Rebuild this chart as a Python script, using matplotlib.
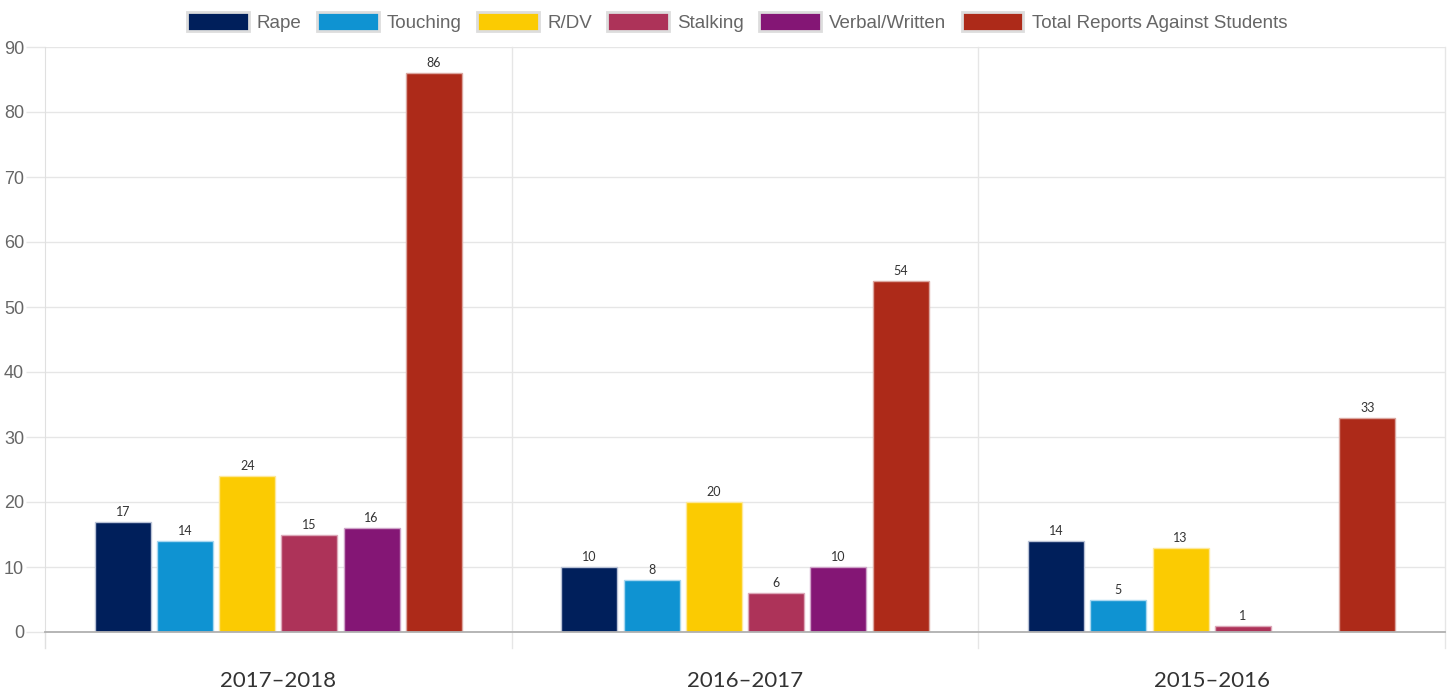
import numpy as np
import matplotlib
matplotlib.use("Agg")
import matplotlib.pyplot as plt
from matplotlib.patches import Patch

# report counts per academic year
years = ["2017\u20132018", "2016\u20132017", "2015\u20132016"]
series_names = ["Rape", "Touching", "R/DV", "Stalking", "Verbal/Written",
                "Total Reports Against Students"]
rape = [17, 10, 14]
touching = [14, 8, 5]
rdv = [24, 20, 13]
stalking = [15, 6, 1]
verbal = [16, 10, None]
total = [86, 54, 33]
series_values = [rape, touching, rdv, stalking, verbal, total]
colors = ["#001f5b", "#0f93d2", "#fbcb02", "#ad3359", "#841675", "#ad2a19"]
edge_colors = ["#b9c2d6", "#a8d7f0", "#fde89a", "#dca8b8", "#cfa3c8", "#dba69f"]

fig = plt.figure(figsize=(14.53, 6.96), dpi=100)
ax = fig.add_axes([45 / 1453, 64 / 696, 1400 / 1453, 585 / 696])

x = np.arange(len(years))
n = len(series_names)
pitch = 0.8 / n
width = pitch * 0.9

for i, (vals, c, ec) in enumerate(zip(series_values, colors, edge_colors)):
    offs = -0.4 + pitch * (i + 0.5)
    for xi, v in zip(x, vals):
        if v is None:
            continue
        ax.bar(xi + offs, v, width=width, color=c, edgecolor=ec, linewidth=1, zorder=3)
        ax.text(xi + offs, v + 0.6, str(v), ha="center", va="bottom",
                fontsize=9, color="#333333", family="Lato", zorder=4)

ax.set_xlim(-0.5, 2.5)
ax.set_ylim(0, 90)
ax.set_yticks(np.arange(0, 91, 10))
ax.set_yticklabels([str(v) for v in range(0, 91, 10)], family="Liberation Sans",
                   fontsize=13, color="#666666")
ax.tick_params(axis="y", length=14, color="#e6e6e6", width=1, pad=1)
ax.grid(axis="y", color="#e6e6e6", linewidth=1, zorder=0)

# category labels centred, separators at the boundaries
ax.set_xticks(x)
ax.set_xticklabels(years, fontsize=16, color="#333333", family="Lato")
ax.tick_params(axis="x", length=0, pad=28)
for b in [0.5, 1.5, 2.5]:
    ax.axvline(b, color="#e6e6e6", linewidth=1, zorder=0, ymin=-16 / 585, clip_on=False)

for s in ["top", "right"]:
    ax.spines[s].set_visible(False)
ax.spines["left"].set_color("#e0e0e0")
ax.spines["left"].set_bounds(0, 90)
ax.plot([-0.5, -0.5], [0, -16 / 6.5], color="#e0e0e0", linewidth=1, clip_on=False)
ax.spines["bottom"].set_color("#b0b0b0")
ax.spines["bottom"].set_linewidth(1.3)
ax.spines["bottom"].set_zorder(5)

handles = [Patch(facecolor=c, edgecolor="#dddddd", linewidth=2) for c in colors]
leg = fig.legend(handles, series_names, loc="center", bbox_to_anchor=(737 / 1453, 1 - 22 / 696),
                 ncol=n, frameon=False, prop={"family": "Liberation Sans", "size": 13.5},
                 handlelength=3.3, handleheight=1.2, handletextpad=0.45, columnspacing=0.8,
                 borderaxespad=0)
for t in leg.get_texts():
    t.set_color("#666666")

fig.savefig("out.png", dpi=100)
